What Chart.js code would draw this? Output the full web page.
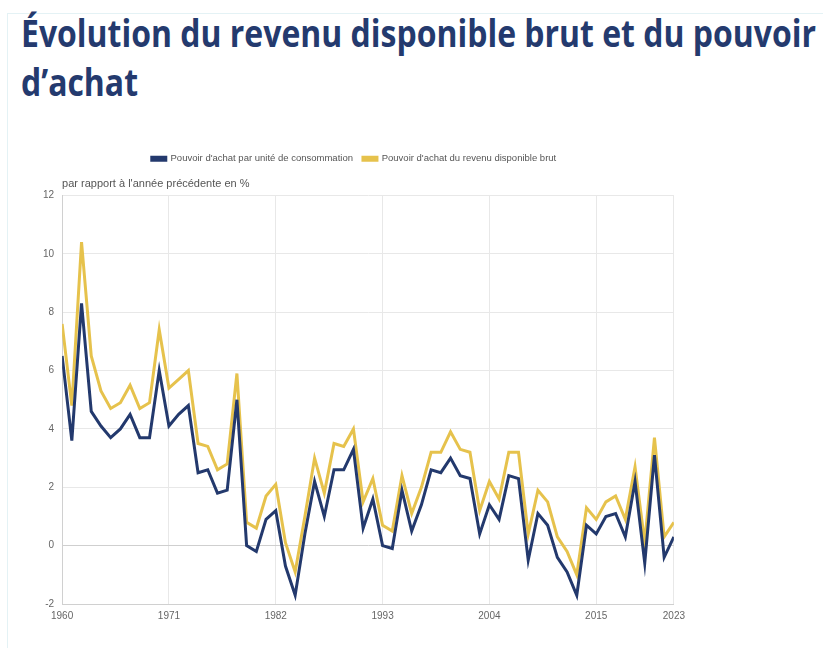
<!DOCTYPE html>
<html lang="fr">
<head>
<meta charset="utf-8">
<script src="https://cdn.jsdelivr.net/npm/chart.js@4.4.0/dist/chart.umd.min.js"></script>
<style>
  body { margin: 0; background: #fff; width: 823px; height: 648px; overflow: hidden; position: relative; }
  .box { position: absolute; left: 7px; top: 13px; width: 830px; height: 700px; border: 1px solid #e4f2f5; }
  h1 {
    position: absolute; left: 21px; top: 8px; margin: 0; white-space: nowrap;
    font-family: "Open Sans", "Noto Sans", sans-serif; font-weight: 700; font-size: 37px;
    line-height: 49px; color: #243a6e; transform-origin: 0 0;
  }
  #wrap { position: absolute; left: 20px; top: 144px; width: 671px; height: 484px; }
</style>
</head>
<body>
<div class="box"></div>
<h1 id="title"><span id="line1">Évolution du revenu disponible brut et du pouvoir</span><br>d’achat</h1>
<div id="wrap"><canvas id="chart"></canvas></div>
<script>
'use strict';

const years = [1960, 1961, 1962, 1963, 1964, 1965, 1966, 1967, 1968, 1969,
  1970, 1971, 1972, 1973, 1974, 1975, 1976, 1977, 1978, 1979,
  1980, 1981, 1982, 1983, 1984, 1985, 1986, 1987, 1988, 1989,
  1990, 1991, 1992, 1993, 1994, 1995, 1996, 1997, 1998, 1999,
  2000, 2001, 2002, 2003, 2004, 2005, 2006, 2007, 2008, 2009,
  2010, 2011, 2012, 2013, 2014, 2015, 2016, 2017, 2018, 2019,
  2020, 2021, 2022, 2023];

// Pouvoir d'achat par unité de consommation
const parUC = [6.5, 3.6, 8.3, 4.6, 4.1, 3.7, 4.0, 4.5, 3.7, 3.7,
  6.0, 4.1, 4.5, 4.8, 2.5, 2.6, 1.8, 1.9, 5.0, 0.0,
  -0.2, 0.9, 1.2, -0.7, -1.7, 0.4, 2.2, 1.0, 2.6, 2.6,
  3.3, 0.6, 1.6, 0.0, -0.1, 1.9, 0.5, 1.4, 2.6, 2.5,
  3.0, 2.4, 2.3, 0.4, 1.4, 0.9, 2.4, 2.3, -0.5, 1.1,
  0.7, -0.4, -0.9, -1.7, 0.7, 0.4, 1.0, 1.1, 0.3, 2.2,
  -0.6, 3.1, -0.4, 0.3];

// Pouvoir d'achat du revenu disponible brut
const rdb = [7.6, 4.8, 10.4, 6.5, 5.3, 4.7, 4.9, 5.5, 4.7, 4.9,
  7.4, 5.4, 5.7, 6.0, 3.5, 3.4, 2.6, 2.8, 5.9, 0.8,
  0.6, 1.7, 2.1, 0.1, -0.9, 1.0, 3.0, 1.8, 3.5, 3.4,
  4.0, 1.5, 2.3, 0.7, 0.5, 2.4, 1.1, 2.0, 3.2, 3.2,
  3.9, 3.3, 3.2, 1.2, 2.2, 1.6, 3.2, 3.2, 0.4, 1.9,
  1.5, 0.3, -0.2, -1.0, 1.3, 0.9, 1.5, 1.7, 0.9, 2.7,
  0.1, 3.7, 0.3, 0.8];

const xTicks = [1960, 1971, 1982, 1993, 2004, 2015, 2023];
const seriesLabels = ['Pouvoir d\'achat par unité de consommation', 'Pouvoir d\'achat du revenu disponible brut'];
const unitLabel = 'par rapport à l\'année précédente en %';

// squeeze the heading so its first line is as wide as in the original
const line1 = document.getElementById('line1');
const sx = 795 / line1.getBoundingClientRect().width;
document.getElementById('title').style.transform = 'scaleX(' + sx + ')';

function points(vals) {
  return years.map((y, i) => ({ x: y, y: vals[i] }));
}

// room under the legend for the unit line, then draw it over the axis
const unitText = {
  id: 'unitText',
  beforeInit(chart) {
    const fit = chart.legend.fit;
    chart.legend.fit = function () {
      fit.call(this);
      this.height += 22;
    };
  },
  afterLayout(chart) {
    chart.legend.left -= 9;
    chart.legend.right -= 9;
  },
  afterDraw(chart) {
    const c = chart.ctx;
    c.save();
    c.font = '11px "Liberation Sans", Arial, sans-serif';
    c.fillStyle = '#555';
    c.textBaseline = 'middle';
    c.fillText(unitLabel, chart.chartArea.left, chart.chartArea.top - 12);
    c.restore();
  }
};

Chart.defaults.font.family = '"Liberation Sans", Arial, sans-serif';
Chart.defaults.font.size = 10;
Chart.defaults.color = '#666';

new Chart(document.getElementById('chart'), {
  type: 'line',
  data: {
    datasets: [{
      label: seriesLabels[0],
      data: points(parUC),
      borderColor: '#23396d',
      backgroundColor: '#23396d',
      borderWidth: 3,
      pointRadius: 0
    }, {
      label: seriesLabels[1],
      data: points(rdb),
      borderColor: '#e6c24c',
      backgroundColor: '#e6c24c',
      borderWidth: 3,
      pointRadius: 0
    }]
  },
  options: {
    responsive: true,
    maintainAspectRatio: false,
    animation: false,
    layout: { padding: { left: 15, right: 0, top: 0, bottom: 0 } },
    plugins: {
      legend: {
        labels: { boxWidth: 14, boxHeight: 3, padding: 10, color: '#555', font: { size: 9.5 } }
      },
      tooltip: { enabled: false }
    },
    scales: {
      x: {
        type: 'linear',
        min: 1960,
        max: 2023,
        afterBuildTicks: scale => { scale.ticks = xTicks.map(v => ({ value: v })); },
        ticks: { callback: v => String(v), autoSkip: false, maxRotation: 0, padding: 6 },
        grid: { color: '#e8e8e8', drawTicks: false },
        border: { color: '#d0d0d0' }
      },
      y: {
        min: -2,
        max: 12,
        ticks: { stepSize: 2, padding: 8 },
        grid: { color: ctx => ctx.tick && ctx.tick.value === 0 ? '#cfcfcf' : '#e8e8e8', drawTicks: false },
        border: { color: '#d0d0d0' }
      }
    }
  },
  plugins: [unitText]
});
</script>
</body>
</html>
